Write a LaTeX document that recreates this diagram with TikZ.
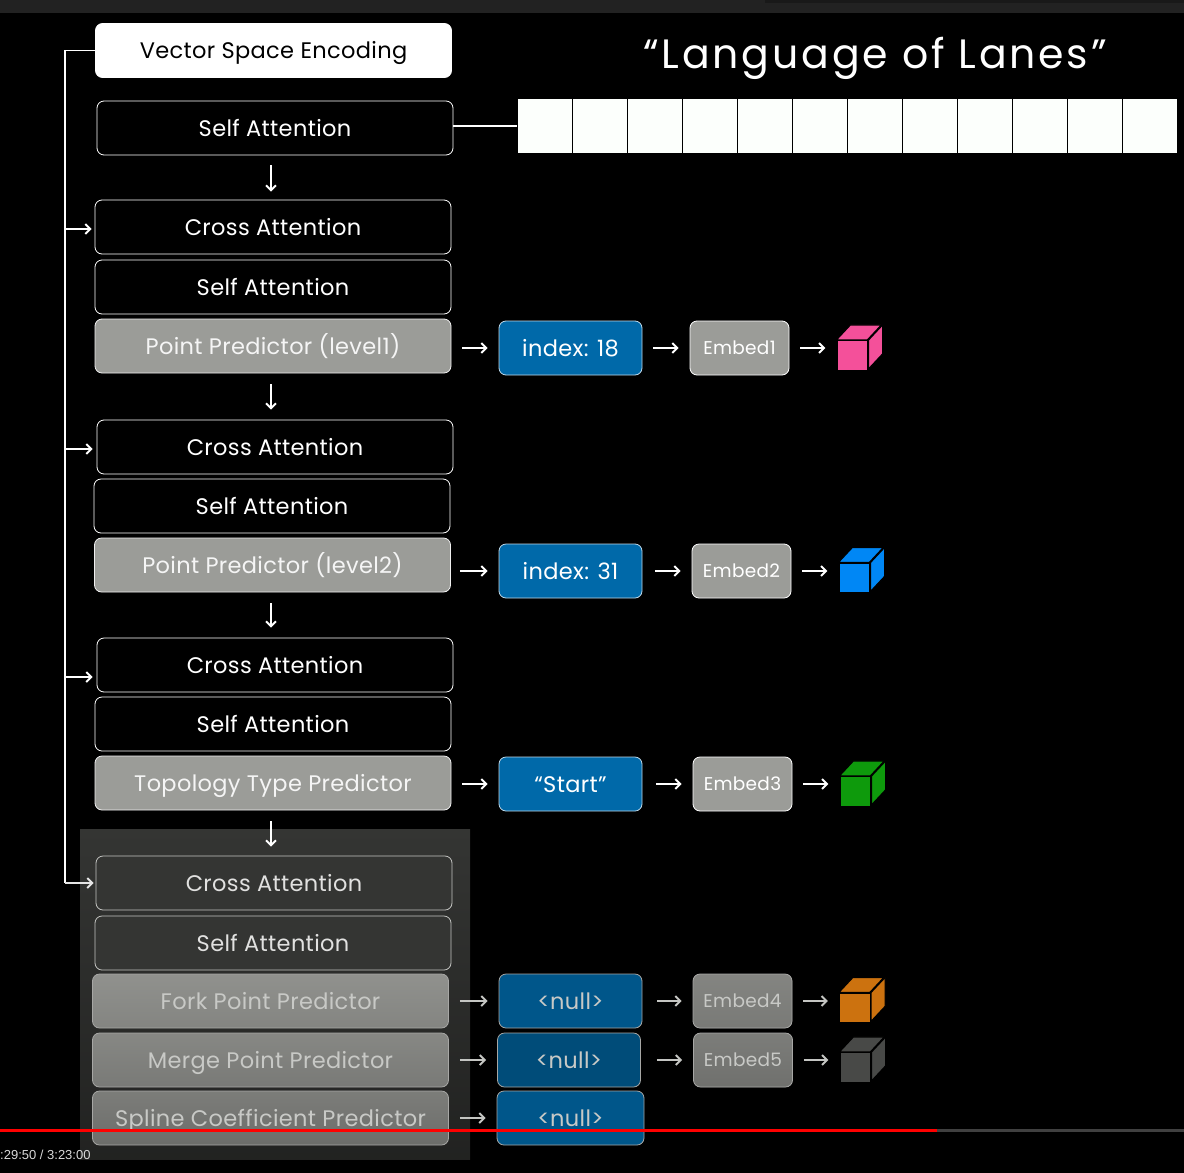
\documentclass[tikz,border=0pt]{standalone}
\usepackage{fontspec}
\setmainfont[LetterSpace=1.5]{Poppins}
\newfontfamily\titlefont[LetterSpace=7]{Poppins}
\newfontfamily\clockfont{Liberation Sans}
\usetikzlibrary{positioning, arrows.meta}

\definecolor{barcol}{HTML}{222222}
\definecolor{panelcol}{HTML}{343533}
\definecolor{predcol}{HTML}{9B9C98}
\definecolor{indexcol}{HTML}{0069A9}
\definecolor{nullcol}{HTML}{00568A}
\definecolor{fadetext}{HTML}{C8C9C6}
\definecolor{fadeline}{HTML}{C4C5C2}
\definecolor{pinkcube}{HTML}{F4509A}
\definecolor{bluecube}{HTML}{0087F5}
\definecolor{greencube}{HTML}{0E9A0C}
\definecolor{orangecube}{HTML}{CC720F}
\definecolor{darkcube}{HTML}{484947}

% front face is the node, top and side are added on it
\newcommand{\lanecube}[2]{
    \draw[black, line width=1.2pt, fill=#2] (#1.north west) -- ++(14,-15) -- ++(31,0) -- ++(-14,15) -- cycle;
    \draw[black, line width=1.2pt, fill=#2] (#1.north east) -- ++(14,-15) -- ++(0,29) -- ++(-14,15) -- cycle;
}

\tikzset{
    box/.style={rectangle, draw=white, rounded corners=7pt, minimum width=356pt, minimum height=54pt, inner sep=0pt, line width=.8pt, text=white, text height=16pt, text depth=0pt, font=\fontsize{22.5}{24}\selectfont},
    attn/.style={box, fill=black},
    pred/.style={box, fill=predcol, draw=white!85!predcol, text=white!90!predcol},
    fadeattn/.style={box, fill=panelcol, draw=fadeline, text=white!85!panelcol},
    fadepred/.style={box, draw=fadeline!85!black, text=fadetext},
    value/.style={box, fill=indexcol, minimum width=143pt, draw=white!75!indexcol},
    nullval/.style={value, fill=nullcol, text=fadetext, draw=fadeline!85!black},
    embed/.style={box, fill=predcol, minimum width=99pt, text height=13pt, font=\fontsize{18.5}{20}\selectfont},
    fadeembed/.style={embed, draw=fadeline!85!black, text=fadetext},
    cubeface/.style={rectangle, draw=black, line width=1.2pt, minimum width=31pt, minimum height=30pt, inner sep=0pt},
    cell/.style={rectangle, draw=black, line width=.5pt, fill=white!99!green, minimum width=54.9pt, minimum height=55pt, inner sep=0pt},
    link/.style={->, line width=1.9pt, white, shorten <=11pt, shorten >=11pt},
    fadelink/.style={link, fadeline},
    bus/.style={line width=1.9pt, white}
}

\begin{document}
\begin{tikzpicture}[x=1pt, y=-1pt, >={Straight Barb[length=5pt, width=10pt]}]
    \useasboundingbox (0,0) rectangle (1184,1173);
    \fill[black] (0,0) rectangle (1184,1173);
    \fill[barcol] (0,0) rectangle (1184,13);
    \fill[black!90!white] (765,0) rectangle (1184,3);
    \fill[top color=panelcol, bottom color=panelcol!65!black] (80,829) rectangle (470,1159);

    % left column
    \node[box, fill=white, text=black] (vse) at (273.5,50.5) {Vector Space Encoding};
    \node[attn, below of=vse, node distance=77.5pt, xshift=1.5pt] (sa0) {Self Attention};
    \node[attn, below of=sa0, node distance=99pt, xshift=-2pt] (ca1) {Cross Attention};
    \node[attn, below of=ca1, node distance=60pt] (sa1) {Self Attention};
    \node[pred, below of=sa1, node distance=59pt] (pp1) {Point Predictor (level1)};
    \node[attn, below of=pp1, node distance=101pt, xshift=2pt] (ca2) {Cross Attention};
    \node[attn, below of=ca2, node distance=59pt, xshift=-3pt] (sa2) {Self Attention};
    \node[pred, below of=sa2, node distance=59pt, xshift=.5pt] (pp2) {Point Predictor (level2)};
    \node[attn, below of=pp2, node distance=100pt, xshift=2.5pt] (ca3) {Cross Attention};
    \node[attn, below of=ca3, node distance=59pt, xshift=-2pt] (sa3) {Self Attention};
    \node[pred, below of=sa3, node distance=59pt] (topo) {Topology Type Predictor};
    \node[fadeattn, below of=topo, node distance=100pt, xshift=1pt] (ca4) {Cross Attention};
    \node[fadeattn, below of=ca4, node distance=60pt, xshift=-1pt] (sa4) {Self Attention};
    \node[fadepred, top color=predcol!93!black, bottom color=predcol!85!black, below of=sa4, node distance=58pt, xshift=-2.5pt] (fork) {Fork Point Predictor};
    \node[fadepred, top color=predcol!87!black, bottom color=predcol!78!black, below of=fork, node distance=59pt] (merge) {Merge Point Predictor};
    \node[fadepred, top color=predcol!80!black, bottom color=predcol!70!black, below of=merge, node distance=58pt] (spline) {Spline Coefficient Predictor};

    % sequence of tokens
    \node[font=\titlefont\fontsize{41}{45}\selectfont, text=white] (title) at (875,58) {“Language of Lanes”};
    \node[cell] (cell1) at (545,126) {};
    \foreach \i [count=\j from 1] in {2,...,12}
        \node[cell, right of=cell\j, node distance=54.95pt] (cell\i) {};
    \draw[bus] (sa0.east |- cell1) -- (cell1);

    % predictor outputs
    \node[value, right of=pp1, node distance=297.5pt, yshift=-2pt] (idx1) {index: 18};
    \node[embed, right of=idx1, node distance=169pt] (emb1) {Embed1};
    \node[cubeface, fill=pinkcube, right of=emb1, node distance=113pt, yshift=-7.5pt] (cube1) {};
    \node[value, right of=pp2, node distance=298pt, yshift=-6pt] (idx2) {index: 31};
    \node[embed, right of=idx2, node distance=171pt] (emb2) {Embed2};
    \node[cubeface, fill=bluecube, right of=emb2, node distance=113pt, yshift=-7pt] (cube2) {};
    \node[value, right of=topo, node distance=297.5pt, yshift=-1pt] (start) {“Start”};
    \node[embed, right of=start, node distance=172pt] (emb3) {Embed3};
    \node[cubeface, fill=greencube, right of=emb3, node distance=113pt, yshift=-7.5pt] (cube3) {};
    \node[nullval, right of=fork, node distance=300pt] (null1) {<null>};
    \node[fadeembed, top color=predcol!85!black, bottom color=predcol!78!black, right of=null1, node distance=172pt] (emb4) {Embed4};
    \node[cubeface, fill=orangecube, right of=emb4, node distance=112.5pt, yshift=-7pt] (cube4) {};
    \node[nullval, fill=nullcol!88!black, right of=merge, node distance=298.5pt] (null2) {<null>};
    \node[fadeembed, top color=predcol!80!black, bottom color=predcol!72!black, right of=null2, node distance=174pt] (emb5) {Embed5};
    \node[cubeface, fill=darkcube, right of=emb5, node distance=112.5pt, yshift=-7.5pt] (cube5) {};
    \node[nullval, minimum width=147pt, right of=spline, node distance=300pt] (null3) {<null>};
    \lanecube{cube1}{pinkcube}
    \lanecube{cube2}{bluecube}
    \lanecube{cube3}{greencube}
    \lanecube{cube4}{orangecube}
    \lanecube{cube5}{darkcube}

    % arrows between stages
    \draw[link, shorten <=10pt, shorten >=8pt] ([xshift=-4pt]sa0.south) -- ([xshift=-2pt]ca1.north);
    \draw[link, shorten <=11pt, shorten >=10pt] ([xshift=-2pt]pp1.south) -- ([xshift=-4pt]ca2.north);
    \draw[link, shorten <=11pt, shorten >=10pt] ([xshift=-1.5pt]pp2.south) -- ([xshift=-4pt]ca3.north);
    \draw[link, shorten <=11pt, shorten >=9pt] ([xshift=-2pt]topo.south) -- ([xshift=-3pt]ca4.north);

    \draw[link] (pp1.east |- idx1) -- (idx1);
    \draw[link] (idx1) -- (emb1);
    \draw[link] (emb1) -- (emb1 -| cube1.west);
    \draw[link, shorten <=9pt] (pp2.east |- idx2) -- (idx2);
    \draw[link, shorten <=13pt] (idx2) -- (emb2);
    \draw[link] (emb2) -- (emb2 -| cube2.west);
    \draw[link] (topo.east |- start) -- (start);
    \draw[link, shorten <=14pt] (start) -- (emb3);
    \draw[link] (emb3) -- (emb3 -| cube3.west);
    \draw[fadelink] (fork) -- (null1);
    \draw[fadelink, shorten <=15pt] (null1) -- (emb4);
    \draw[fadelink] (emb4) -- (emb4 -| cube4.west);
    \draw[fadelink] (merge) -- (null2);
    \draw[fadelink, shorten <=16pt] (null2) -- (emb5);
    \draw[fadelink] (emb5) -- (emb5 -| cube5.west);
    \draw[fadelink] (spline) -- (null3);

    % encoding fed to every cross attention
    \coordinate (bustop) at (65,50.5);
    \coordinate (tap1) at (65,229);
    \coordinate (tap2) at (65,449);
    \coordinate (tap3) at (65,677);
    \coordinate (tap4) at (65,883);
    \draw[bus] (vse.west) -- (bustop) -- (tap4);
    \draw[link, shorten <=0pt, shorten >=3pt] (tap1) -- (tap1 -| ca1.west);
    \draw[link, shorten <=0pt, shorten >=4pt] (tap2) -- (tap2 -| ca2.west);
    \draw[link, shorten <=0pt, shorten >=4pt] (tap3) -- (tap3 -| ca3.west);
    \draw[link, white!90!black, shorten <=0pt, shorten >=2pt] (tap4) -- (ca4.west);

    % player progress bar
    \fill[black!75!white] (937,1129) rectangle (1184,1131.5);
    \fill[red] (0,1128.7) rectangle (937,1131.7);
    \node[font=\clockfont\fontsize{13}{15}\selectfont, text=white!85!black, anchor=west, inner sep=0pt] (clock) at (0,1155) {:29:50 / 3:23:00};
\end{tikzpicture}
\end{document}
